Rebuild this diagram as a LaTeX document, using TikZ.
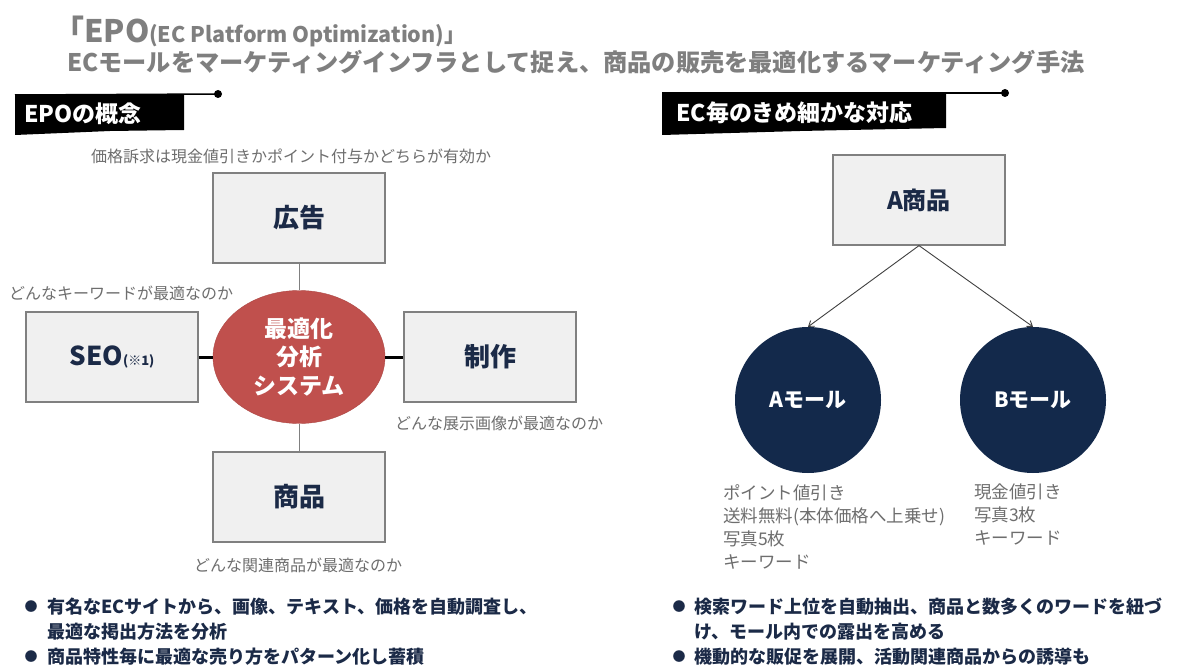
\documentclass[tikz,border=0pt]{standalone}
\usepackage{fontspec}
\setmainfont{Noto Sans CJK JP}
\usetikzlibrary{arrows.meta,shapes.geometric}
\definecolor{navy}{HTML}{1B2A47}
\definecolor{gtext}{HTML}{6E6E6E}
\definecolor{titlegray}{HTML}{7F7F7F}
\definecolor{boxfill}{HTML}{F0F0F0}
\definecolor{boxline}{HTML}{808080}
\definecolor{redfill}{HTML}{C0504D}
\definecolor{circ}{HTML}{13294B}
\begin{document}
\begin{tikzpicture}[x=1pt,y=-1pt,
  box/.style={draw=boxline, line width=1.2pt, fill=boxfill, minimum width=172pt, minimum height=90pt, inner sep=0pt, text=navy, font=\bfseries\fontsize{26}{26}\selectfont},
  note/.style={inner sep=0pt, text=gtext, font=\fontsize{16}{16}\selectfont},
  sublist/.style={inner sep=0pt, text=gtext, anchor=north west, align=left, font=\fontsize{17.5}{23}\selectfont},
  bul/.style={inner sep=0pt, text=navy, font=\fontsize{13}{13}\selectfont},
  btext/.style={inner sep=0pt, anchor=west, text=navy, font=\bfseries\fontsize{18}{18}\selectfont},
  tabtext/.style={inner sep=0pt, anchor=west, text=white, font=\bfseries\fontsize{23}{23}\selectfont},
  mall/.style={circle, fill=circ, minimum size=146pt, inner sep=0pt, text=white, font=\bfseries\fontsize{21}{21}\selectfont},
  thinline/.style={draw=gray, line width=1pt},
  thickline/.style={draw=black, line width=3pt},
  arr/.style={draw=black!75, line width=0.9pt, -{Straight Barb[length=5pt,width=7pt]}}
]
\useasboundingbox[fill=white] (0,0) rectangle (1186,666);

% title
\node[inner sep=0pt, anchor=west, text=titlegray, font=\bfseries] (t1) at (53,31)
  {{\fontsize{31}{31}\selectfont 「EPO}{\fontsize{21.5}{21.5}\selectfont (EC Platform Optimization)」}};
\node[inner sep=0pt, anchor=west, text=titlegray, font=\bfseries\fontsize{24.2}{24.2}\selectfont] (t2) at (67,62)
  {ECモールをマーケティングインフラとして捉え、商品の販売を最適化するマーケティング手法};

% left tab
\fill (15,95) -- (184,95) -- (184,130) -- (110,131) -- (15,135) -- cycle;
\coordinate (ldot) at (218,94);
\coordinate (lstart) at (15,95);
\draw[line width=1.5pt] (lstart) -- (ldot);
\fill (ldot) circle (4);
\node[tabtext] (tabl) at (24,114) {EPOの概念};

% right tab
\fill (662,93) -- (946,93) -- (946,128) -- (800,131) -- (662,135) -- cycle;
\coordinate (rdot) at (1005,93);
\coordinate (rstart) at (662,93);
\draw[line width=1.5pt] (rstart) -- (rdot);
\fill (rdot) circle (4);
\node[tabtext] (tabr) at (676,113) {EC毎のきめ細かな対応};

% left diagram
\node[box] (ad) at (299,218) {広告};
\node[box] (seo) at (112,357) {SEO{\fontsize{13}{13}\selectfont (※1)}};
\node[box] (make) at (490,357) {制作};
\node[box] (prod) at (299,497) {商品};
\node[ellipse, fill=redfill, draw=redfill!90!black, minimum width=172pt, minimum height=133pt, inner sep=0pt, text=white, align=center, font=\bfseries\fontsize{23}{28.5}\selectfont] (sys) at (299,357) {最適化\\分析\\システム};

\draw[thinline] (ad) -- (sys);
\draw[thinline] (sys) -- (prod);
\draw[thickline] (seo) -- (sys);
\draw[thickline] (sys) -- (make);

\node[note] (n1) at (291,156) {価格訴求は現金値引きかポイント付与かどちらが有効か};
\node[note, anchor=west] (n2) at (9,293) {どんなキーワードが最適なのか};
\node[note, anchor=west] (n3) at (395,423) {どんな展示画像が最適なのか};
\node[note] (n4) at (298,565) {どんな関連商品が最適なのか};

% right diagram
\node[box, font=\bfseries\fontsize{24}{24}\selectfont] (a) at (919,200) {A商品};
\node[mall] (am) at (808,400) {Aモール};
\node[mall] (bm) at (1033,400) {Bモール};
\draw[arr] (a.south) -- (am.north);
\draw[arr] (a.south) -- (bm.north);

\node[sublist] (al) at (723,484) {ポイント値引き\\送料無料(本体価格へ上乗せ)\\写真5枚\\キーワード};
\node[sublist] (bl) at (974,484) {現金値引き\\写真3枚\\キーワード};

% bullets left
\node[bul] (lb1) at (31,607) {●};
\node[btext] (lt1) at (47,607) {有名なECサイトから、画像、テキスト、価格を自動調査し、};
\node[btext] (lt2) at (47,632) {最適な掲出方法を分析};
\node[bul] (lb2) at (31,657) {●};
\node[btext] (lt3) at (47,657) {商品特性毎に最適な売り方をパターン化し蓄積};

% bullets right
\node[bul] (rb1) at (679,607) {●};
\node[btext] (rt1) at (694,607) {検索ワード上位を自動抽出、商品と数多くのワードを紐づ};
\node[btext] (rt2) at (694,632) {け、モール内での露出を高める};
\node[bul] (rb2) at (679,657) {●};
\node[btext] (rt3) at (694,657) {機動的な販促を展開、活動関連商品からの誘導も};
\end{tikzpicture}
\end{document}
